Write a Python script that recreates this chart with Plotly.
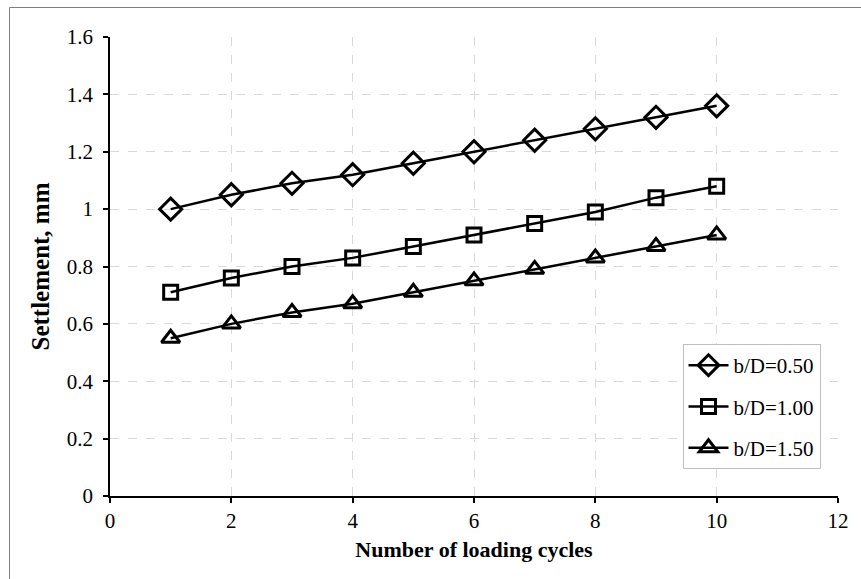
import plotly.graph_objects as go

cycles = [1, 2, 3, 4, 5, 6, 7, 8, 9, 10]
s_050 = [1.00, 1.05, 1.09, 1.12, 1.16, 1.20, 1.24, 1.28, 1.32, 1.36]
s_100 = [0.71, 0.76, 0.80, 0.83, 0.87, 0.91, 0.95, 0.99, 1.04, 1.08]
s_150 = [0.55, 0.60, 0.64, 0.67, 0.71, 0.75, 0.79, 0.83, 0.87, 0.91]
names = ["b/D=0.50", "b/D=1.00", "b/D=1.50"]
symbols = ["diamond-open", "square-open", "triangle-up-open"]
sizes = [17, 14, 16]
y_ticks = [0, 0.2, 0.4, 0.6, 0.8, 1.0, 1.2, 1.4, 1.6]
y_labels = ["0", "0.2", "0.4", "0.6", "0.8", "1", "1.2", "1.4", "1.6"]
x_ticks = [0, 2, 4, 6, 8, 10, 12]

FONT = "Liberation Serif, Times New Roman, serif"

fig = go.Figure()
for i, (name, ys, sym, sz) in enumerate(zip(names, [s_050, s_100, s_150], symbols, sizes)):
    fig.add_trace(go.Scatter(
        x=cycles, y=ys, name=name, mode="lines+markers",
        legendgroup=f"g{i}",
        line=dict(color="black", width=2.5),
        marker=dict(symbol=sym, size=sz, color="black",
                    line=dict(color="black", width=3)),
    ))

L, R, T, B = 110, 23, 37, 83
W, H = 861, 579
pw = W - L - R
ph = H - T - B

fig.update_layout(
    width=W, height=H,
    margin=dict(l=L, r=R, t=T, b=B),
    paper_bgcolor="white", plot_bgcolor="white",
    font=dict(family=FONT, size=21, color="black"),
    showlegend=True,
    legend=dict(
        x=(820.5 - L) / pw, y=(496 - 344) / ph, xanchor="right", yanchor="top",
        bordercolor="#bfbfbf", borderwidth=1, bgcolor="white",
        font=dict(family=FONT, size=21, color="black"),
        tracegroupgap=11,
        itemwidth=40,
    ),
    xaxis=dict(
        range=[0, 12], tickvals=x_ticks, ticktext=[str(v) for v in x_ticks],
        showgrid=True, gridcolor="#d9d9d9", griddash="dash", gridwidth=1,
        showline=True, linecolor="black", linewidth=1.5,
        ticks="outside", ticklen=5, tickcolor="black", tickwidth=1.5,
        zeroline=False,
        title=dict(text="<b>Number of loading cycles</b>", font=dict(family=FONT, size=22), standoff=10),
        tickfont=dict(family=FONT, size=21),
    ),
    yaxis=dict(
        range=[0, 1.6], tickvals=y_ticks, ticktext=y_labels,
        showgrid=True, gridcolor="#d9d9d9", griddash="dash", gridwidth=1,
        showline=True, linecolor="black", linewidth=1.5,
        ticks="outside", ticklen=5, tickcolor="black", tickwidth=1.5,
        ticklabelstandoff=6,
        zeroline=False,
        title=dict(text="<b>Settlement, mm</b>", font=dict(family=FONT, size=25), standoff=10),
        tickfont=dict(family=FONT, size=21),
    ),
)

# outer chart border (only top and left edges visible in the picture)
fig.add_shape(type="line", xref="paper", yref="paper",
              x0=(9.5 - L) / pw, x1=(W + 5 - L) / pw,
              y0=(H - B - 7.5) / ph, y1=(H - B - 7.5) / ph,
              line=dict(color="#7f7f7f", width=1))
fig.add_shape(type="line", xref="paper", yref="paper",
              x0=(9.5 - L) / pw, x1=(9.5 - L) / pw,
              y0=(H - B - 7.5) / ph, y1=(H - B - H - 5) / ph,
              line=dict(color="#7f7f7f", width=1))

fig.write_html("out.html")
